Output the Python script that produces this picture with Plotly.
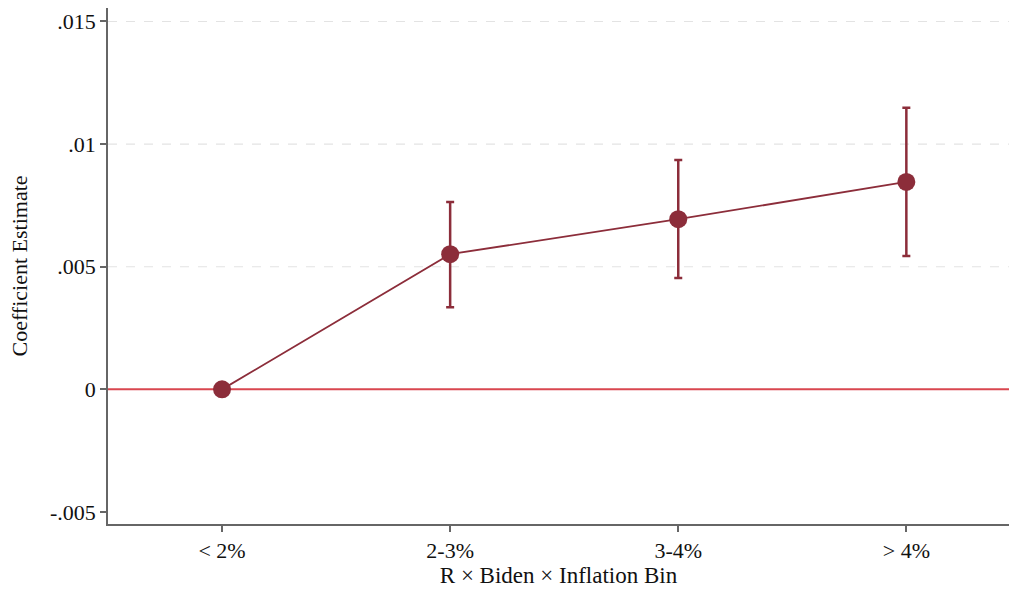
import plotly.graph_objects as go

categories = ["< 2%", "2-3%", "3-4%", "> 4%"]
coef = [0.0, 0.00551, 0.00694, 0.00846]
ci_upper = [0.0, 0.00764, 0.00935, 0.01148]
ci_lower = [0.0, 0.00335, 0.00454, 0.00544]
ytick_vals = [-0.005, 0, 0.005, 0.01, 0.015]
ytick_text = ["-.005", "0", ".005", ".01", ".015"]
grid_vals = [0.005, 0.01, 0.015]

xpos = list(range(len(categories)))
err_plus = [u - c for u, c in zip(ci_upper, coef)]
err_minus = [c - l for c, l in zip(coef, ci_lower)]

maroon = "#8c2d3a"
font = "Liberation Serif, Times New Roman, serif"

fig = go.Figure()

for g in grid_vals:
    fig.add_shape(type="line", xref="paper", x0=0, x1=1, yref="y", y0=g, y1=g,
                  line=dict(color="#e3e3e3", width=1.2, dash="dash"), layer="below")

fig.add_shape(type="line", xref="paper", x0=0, x1=1, yref="y", y0=0, y1=0,
              line=dict(color="#d9464f", width=2), layer="below")

fig.add_trace(go.Scatter(
    x=xpos, y=coef, mode="lines+markers",
    line=dict(color=maroon, width=1.8),
    marker=dict(color=maroon, size=18),
    error_y=dict(type="data", symmetric=False, array=err_plus, arrayminus=err_minus,
                 color=maroon, thickness=2.5, width=4),
    showlegend=False,
))

fig.update_layout(
    width=1009, height=594,
    margin=dict(l=108, r=0, t=8, b=70),
    plot_bgcolor="white", paper_bgcolor="white",
    font=dict(family=font, size=22, color="#111"),
    xaxis=dict(
        range=[-0.5, 3.45], tickvals=xpos, ticktext=categories,
        showgrid=False, zeroline=False, showline=True, linecolor="#666", linewidth=1.5,
        ticks="outside", ticklen=6, tickcolor="#666", tickwidth=1.5,
        title=dict(text="R × Biden × Inflation Bin", standoff=4, font=dict(size=23)),
        tickfont=dict(size=22),
    ),
    yaxis=dict(
        range=[-0.00549, 0.01555], tickvals=ytick_vals, ticktext=ytick_text,
        showgrid=False, zeroline=False, showline=True, linecolor="#666", linewidth=1.5,
        ticks="outside", ticklen=6, tickcolor="#666", tickwidth=1.5,
        title=dict(text="Coefficient Estimate", standoff=16, font=dict(size=22)),
        tickfont=dict(size=22),
    ),
)

fig.write_html("out.html")
